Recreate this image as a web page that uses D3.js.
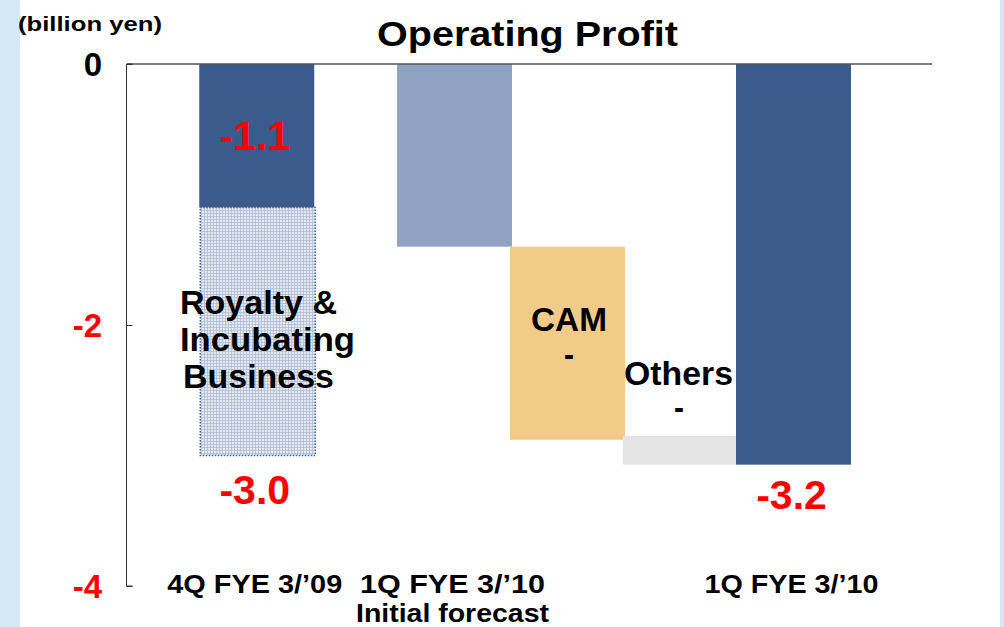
<!DOCTYPE html>
<html>
<head>
<meta charset="utf-8">
<script src="https://cdn.jsdelivr.net/npm/d3@7"></script>
<style>
  body { margin: 0; background: #fff; }
  svg { display: block; font-family: Arial, "Liberation Sans", sans-serif; font-weight: bold; }
</style>
</head>
<body>
<svg id="chart" width="1004" height="627"></svg>
<script>
// chart values (billion yen)
const categories = ["4Q FYE 3/’09", "1Q FYE 3/’10", "CAM", "Others", "1Q FYE 3/’10"];
const barStart = [0, 0, -1.4, -2.85, 0];
const barEnd = [-1.1, -1.4, -2.88, -3.07, -3.07];
const barColors = ["#3b5b8c", "#8fa3c3", "#f3cb88", "#e4e4e4", "#3b5b8c"];
const royalty = [-1.1, -3.0]; // hatched part of the first bar
const yTicks = [0, -2, -4];
const tickColors = ["#000", "#ff0000", "#ff0000"];
const valueLabels = [
  { bar: 0, text: "-1.1", at: -0.55, dy: 14 },
  { bar: 0, text: "-3.0", at: -3.0, dy: 48 },
  { bar: 4, text: "-3.2", at: -3.07, dy: 44 }
];
const catLabels = [
  { bar: 0, lines: ["4Q FYE 3/’09"], len: [175] },
  { bar: 1, lines: ["1Q FYE 3/’10", "Initial forecast"], len: [185, 193] },
  { bar: 4, lines: ["1Q FYE 3/’10"], len: [174] }
];

const svg = d3.select("#chart");
const W = 1004, H = 627;

// side bands
svg.append("rect").attr("x", 0).attr("y", 0).attr("width", 20).attr("height", H).attr("fill", "#d4e8f5");
svg.append("rect").attr("x", 1000).attr("y", 0).attr("width", 4).attr("height", H).attr("fill", "#d4e8f5");

const y = d3.scaleLinear().domain([0, -4]).range([64, 586]);
// bars 2..5 sit side by side, the first one stands apart
const slot = [-1.75, 0, 1, 2, 3];
const xs = d3.scaleLinear().domain([0, 1]).range([397, 510]);
const bw = 115;

// hatch pattern
const defs = svg.append("defs");
const pat = defs.append("pattern").attr("id", "hatch").attr("patternUnits", "userSpaceOnUse")
  .attr("width", 3).attr("height", 3);
pat.append("rect").attr("width", 3).attr("height", 3).attr("fill", "#e3e8f1");
pat.append("path").attr("d", "M0,0.5H3M0.5,0V3").attr("stroke", "#b0bdd3").attr("stroke-width", 0.8);

// bars
svg.append("g").selectAll("rect").data(categories).join("rect")
  .attr("x", (d, i) => xs(slot[i]))
  .attr("y", (d, i) => y(barStart[i]))
  .attr("width", bw)
  .attr("height", (d, i) => y(barEnd[i]) - y(barStart[i]))
  .attr("fill", (d, i) => barColors[i]);

svg.append("rect")
  .attr("x", xs(slot[0]) + 1).attr("y", y(royalty[0]))
  .attr("width", bw).attr("height", y(royalty[1]) - y(royalty[0]))
  .attr("fill", "url(#hatch)")
  .attr("stroke", "#4a6a9c").attr("stroke-width", 1.5).attr("stroke-dasharray", "1.5,1.5");

// axes
svg.append("line").attr("x1", 127).attr("x2", 932).attr("y1", y(0)).attr("y2", y(0))
  .attr("stroke", "#555").attr("stroke-width", 1.6);
const yAxis = d3.axisRight(y).tickValues(yTicks).tickSize(6).tickFormat("");
const ag = svg.append("g").attr("transform", "translate(126.5,0)").call(yAxis);
ag.select(".domain").attr("d", `M6,${y(0)}H0V${y(-4)}H6`).attr("stroke", "#333");
ag.selectAll(".tick line").attr("stroke", "#333");

svg.append("g").selectAll("text").data(yTicks).join("text")
  .attr("x", 102).attr("y", d => y(d) + 12)
  .attr("text-anchor", "end").attr("font-size", 33)
  .attr("fill", (d, i) => tickColors[i])
  .text(d => d);

// titles
svg.append("text").attr("x", 18).attr("y", 31).attr("font-size", 21)
  .attr("textLength", 144).attr("lengthAdjust", "spacingAndGlyphs").text("(billion yen)");
svg.append("text").attr("x", 377).attr("y", 46).attr("font-size", 35)
  .attr("textLength", 301).attr("lengthAdjust", "spacingAndGlyphs").text("Operating Profit");

const cx = i => xs(slot[i]) + bw / 2;

// value labels
svg.append("g").selectAll("text").data(valueLabels).join("text")
  .attr("x", d => cx(d.bar) - 2).attr("y", d => y(d.at) + d.dy)
  .attr("text-anchor", "middle").attr("font-size", 41).attr("fill", "#ff0000")
  .text(d => d.text);

// labels inside the chart
const inner = [
  { x: 180, y: 314, t: "Royalty &", len: 157 },
  { x: 180, y: 351, t: "Incubating", len: 175 },
  { x: 183, y: 388, t: "Business", len: 151 },
  { x: 531, y: 331, t: "CAM", len: 76 },
  { x: 564, y: 366, t: "-", len: 10 },
  { x: 624, y: 385, t: "Others", len: 109 },
  { x: 674, y: 419, t: "-", len: 10 }
];
svg.append("g").selectAll("text").data(inner).join("text")
  .attr("x", d => d.x).attr("y", d => d.y).attr("font-size", 33)
  .attr("textLength", d => d.len).attr("lengthAdjust", "spacingAndGlyphs")
  .text(d => d.t);

// category labels
catLabels.forEach(c => {
  c.lines.forEach((line, j) => {
    svg.append("text")
      .attr("x", cx(c.bar) - c.len[j] / 2 - 2).attr("y", 593 + j * 29)
      .attr("font-size", 25)
      .attr("textLength", c.len[j]).attr("lengthAdjust", "spacingAndGlyphs")
      .text(line);
  });
});
</script>
</body>
</html>
